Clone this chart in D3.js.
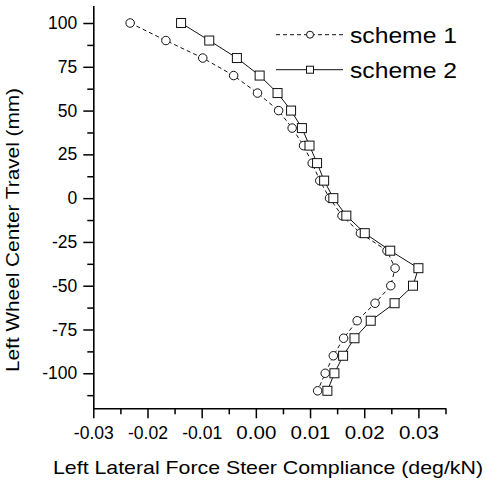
<!DOCTYPE html>
<html>
<head>
<meta charset="utf-8">
<script src="https://cdn.jsdelivr.net/npm/d3@7"></script>
<style>
  body { margin: 0; background: #fff; }
  svg { display: block; }
  text { font-family: "Liberation Sans", Arial, Helvetica, sans-serif; fill: #000; }
</style>
</head>
<body>
<script>
// Wheel center travel (mm) at which compliance was evaluated
const travel = [100, 90, 80, 70, 60, 50, 40, 30, 20, 10, 0, -10, -20, -30, -40, -50, -60, -70, -80, -90, -100, -110];

// Lateral force steer compliance (deg/kN) for each scheme
const scheme1 = [-0.0232, -0.0166, -0.0098, -0.0041, 0.0003, 0.0042, 0.0067, 0.0088, 0.0104, 0.0118, 0.0136,
                 0.0159, 0.0193, 0.0242, 0.0257, 0.0249, 0.0220, 0.0187, 0.0162, 0.0143, 0.0128, 0.0114];
const scheme2 = [-0.0138, -0.0086, -0.0035, 0.0007, 0.0040, 0.0065, 0.0085, 0.0099, 0.0113, 0.0126, 0.0143,
                 0.0167, 0.0201, 0.0248, 0.0300, 0.0290, 0.0256, 0.0212, 0.0182, 0.0161, 0.0145, 0.0132];

const seriesNames = ["scheme 1", "scheme 2"];

const xTicks = [-0.03, -0.02, -0.01, 0.00, 0.01, 0.02, 0.03];
const xMinorTicks = [-0.025, -0.015, -0.005, 0.005, 0.015, 0.025, 0.035];
const yTicks = [100, 75, 50, 25, 0, -25, -50, -75, -100];
const yMinorTicks = [87.5, 62.5, 37.5, 12.5, -12.5, -37.5, -62.5, -87.5, -112.5];

const xTitle = "Left Lateral Force Steer Compliance (deg/kN)";
const yTitle = "Left Wheel Center Travel (mm)";

const W = 487, H = 485;
const svg = d3.select("body").append("svg").attr("width", W).attr("height", H);

const x = d3.scaleLinear().domain([-0.03, 0.035]).range([93.3, 445.5]);
const y = d3.scaleLinear().domain([-120, 110]).range([408.3, 5.5]);

const ink = "#000";

// minor ticks
svg.append("g")
  .attr("transform", `translate(0,${y.range()[0]})`)
  .call(d3.axisBottom(x).tickValues(xMinorTicks).tickSize(6).tickFormat(""))
  .call(g => g.select(".domain").remove())
  .call(g => g.selectAll("line").attr("stroke", ink).attr("stroke-width", 1.5));
svg.append("g")
  .attr("transform", `translate(${x.range()[0]},0)`)
  .call(d3.axisLeft(y).tickValues(yMinorTicks).tickSize(6).tickFormat(""))
  .call(g => g.select(".domain").remove())
  .call(g => g.selectAll("line").attr("stroke", ink).attr("stroke-width", 1.5));

// major axes
const xAxis = svg.append("g")
  .attr("transform", `translate(0,${y.range()[0]})`)
  .call(d3.axisBottom(x).tickValues(xTicks).tickSize(10).tickSizeOuter(0).tickPadding(8)
          .tickFormat(d => d.toFixed(2)));
const yAxis = svg.append("g")
  .attr("transform", `translate(${x.range()[0]},0)`)
  .call(d3.axisLeft(y).tickValues(yTicks).tickSize(10).tickSizeOuter(0).tickPadding(6)
          .tickFormat(d => String(d)));

[xAxis, yAxis].forEach(g => {
  g.select(".domain").attr("stroke", ink).attr("stroke-width", 1.6);
  g.selectAll(".tick line").attr("stroke", ink).attr("stroke-width", 1.5);
  g.selectAll(".tick text").attr("font-size", 17.5).attr("fill", ink)
    .style("font-family", "'Liberation Sans', Arial, sans-serif");
});
xAxis.selectAll(".tick text").attr("textLength", 40).attr("lengthAdjust", "spacingAndGlyphs");

// axis titles
svg.append("text")
  .attr("x", 268).attr("y", 474)
  .attr("text-anchor", "middle")
  .attr("font-size", 19)
  .attr("textLength", 430).attr("lengthAdjust", "spacingAndGlyphs")
  .text(xTitle);
svg.append("text")
  .attr("transform", "translate(19,230) rotate(-90)")
  .attr("text-anchor", "middle")
  .attr("font-size", 19)
  .attr("textLength", 284).attr("lengthAdjust", "spacingAndGlyphs")
  .text(yTitle);

// series
const series = [
  { name: seriesNames[0], values: scheme1, dash: "4,3", marker: "circle" },
  { name: seriesNames[1], values: scheme2, dash: null, marker: "square" }
];

const line = d3.line()
  .x(d => x(d[0]))
  .y(d => y(d[1]));

function drawMarker(g, kind, cx, cy, size) {
  if (kind === "circle") {
    g.append("circle").attr("cx", cx).attr("cy", cy).attr("r", size / 2)
      .attr("fill", "#fff").attr("stroke", "#111").attr("stroke-width", 1);
  } else {
    g.append("rect").attr("x", cx - size / 2).attr("y", cy - size / 2)
      .attr("width", size).attr("height", size)
      .attr("fill", "#fff").attr("stroke", "#111").attr("stroke-width", 1);
  }
}

series.forEach(s => {
  const pts = s.values.map((v, i) => [v, travel[i]]);
  svg.append("path")
    .datum(pts)
    .attr("d", line)
    .attr("fill", "none")
    .attr("stroke", "#111")
    .attr("stroke-width", 1)
    .attr("stroke-dasharray", s.dash);
});

series.forEach(s => {
  const g = svg.append("g");
  s.values.forEach((v, i) => {
    drawMarker(g, s.marker, x(v), y(travel[i]), s.marker === "circle" ? 8.5 : 9);
  });
});

// legend
const legend = svg.append("g");
series.forEach((s, i) => {
  const ly = 34.7 + i * 35;
  legend.append("line")
    .attr("x1", 276).attr("x2", 343).attr("y1", ly).attr("y2", ly)
    .attr("stroke", "#111").attr("stroke-width", 1)
    .attr("stroke-dasharray", s.dash);
  drawMarker(legend, s.marker, 310, ly, 7);
  legend.append("text")
    .attr("x", 350).attr("y", ly + 8.5)
    .attr("font-size", 22.5)
    .attr("textLength", 107).attr("lengthAdjust", "spacingAndGlyphs")
    .text(s.name);
});
</script>
</body>
</html>
